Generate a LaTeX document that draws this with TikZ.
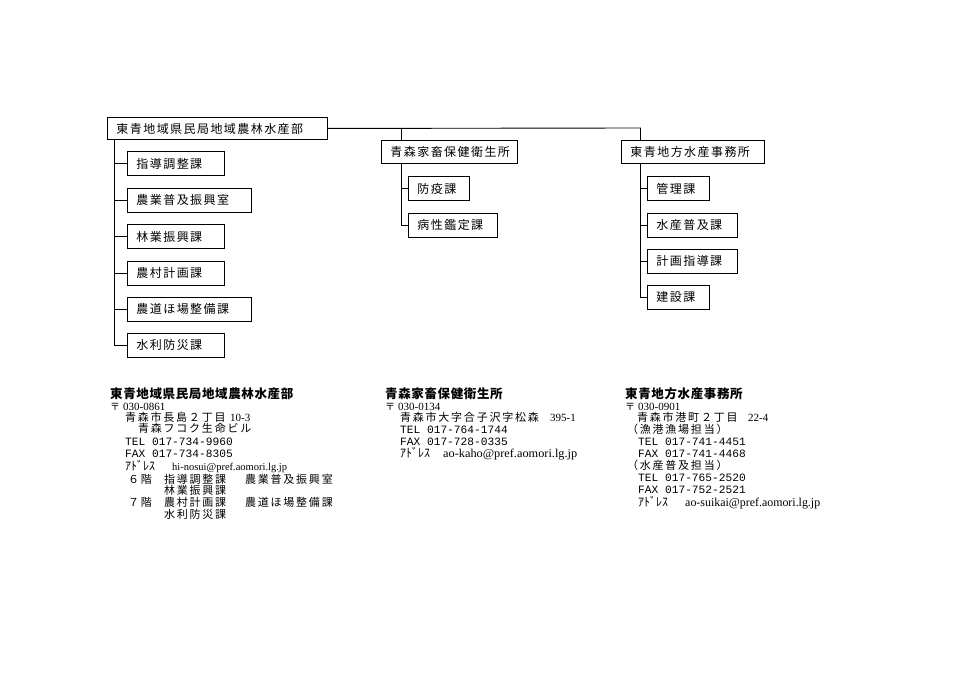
\documentclass[tikz,border=0pt]{standalone}
\usepackage{fontspec}
\usepackage{graphicx}
\setmainfont{Liberation Serif}
\newfontfamily\jp{Noto Sans CJK JP}
\newfontfamily\mono{Liberation Mono}
\newcommand\boxfont{\jp\fontsize{12}{14}\selectfont\addfontfeature{LetterSpace=12}}
\newcommand\hfont{\jp\bfseries\fontsize{12.5}{14}\selectfont\addfontfeature{LetterSpace=5}}
\newcommand\bfont{\jp\fontsize{11}{13}\selectfont\addfontfeature{LetterSpace=16}}
\newcommand\zfont{\jp\fontsize{10}{12}\selectfont}
\newcommand\kfont{\jp\fontsize{12}{13}\selectfont}
\newcommand\mfont{\mono\fontsize{11.2}{13}\selectfont}
\newcommand\sfont{\rmfamily\fontsize{11}{13}\selectfont}
\newcommand\efont{\rmfamily\fontsize{12}{13}\selectfont}
\newcommand\lfont{\rmfamily\fontsize{10.5}{13}\selectfont}
\newcommand\fitw[2]{\resizebox{#1}{\height}{#2}}
\tikzset{
  box/.style={draw, line width=0.9pt, anchor=north west, inner xsep=9pt, inner ysep=0pt, align=left, font=\boxfont},
  ln/.style={line width=0.9pt},
  t/.style={anchor=base west, inner sep=0pt}
}
\begin{document}
\begin{tikzpicture}[x=1pt,y=-1pt]
\useasboundingbox[fill=white] (0,0) rectangle (960,679);
% --- boxes
\node[box, text width=202pt, minimum height=22pt] (top) at (107,117) {東青地域県民局地域農林水産部};
\node[box, text width=79pt, minimum height=24pt] (b1) at (127,151.5) {指導調整課};
\node[box, text width=106pt, minimum height=24pt] (b2) at (127,187.5) {農業普及振興室};
\node[box, text width=79pt, minimum height=24pt] (b3) at (127,224) {林業振興課};
\node[box, text width=79pt, minimum height=24pt] (b4) at (127,260.5) {農村計画課};
\node[box, text width=106pt, minimum height=24pt] (b5) at (127,297) {農道ほ場整備課};
\node[box, text width=79pt, minimum height=24pt] (b6) at (127,333) {水利防災課};
\node[box, text width=118pt, minimum height=23.5pt] (h2) at (381,140) {青森家畜保健衛生所};
\node[box, text width=43pt, minimum height=24pt] (c1) at (408,176) {防疫課};
\node[box, text width=71pt, minimum height=24pt] (c2) at (408,212.5) {病性鑑定課};
\node[box, text width=125pt, minimum height=23.5pt] (h3) at (621,140) {東青地方水産事務所};
\node[box, text width=44pt, minimum height=24pt] (d1) at (647,176) {管理課};
\node[box, text width=72pt, minimum height=24pt] (d2) at (647,212.5) {水産普及課};
\node[box, text width=72pt, minimum height=24pt] (d3) at (647,248.5) {計画指導課};
\node[box, text width=44pt, minimum height=24pt] (d4) at (647,285) {建設課};
% --- connectors
\coordinate (j2) at (401,128);
\coordinate (j3) at (640.5,128);
\coordinate (tl) at (114,0);
\draw[ln] (top.east) -- (j3) -- (j3 |- h3.north);
\draw[ln] (j2) -- (j2 |- h2.north);
\draw[ln] (tl |- top.south) -- (tl |- b6.west) -- (b6.west);
\foreach \b in {b1,b2,b3,b4,b5} \draw[ln] (tl |- \b.west) -- (\b.west);
\draw[ln] (j2 |- h2.south) -- (j2 |- c2.west) -- (c2.west);
\draw[ln] (j2 |- c1.west) -- (c1.west);
\draw[ln] (j3 |- h3.south) -- (j3 |- d4.west) -- (d4.west);
\foreach \b in {d1,d2,d3} \draw[ln] (j3 |- \b.west) -- (\b.west);
% --- left address block
\node[t] (la0) at (110,398.5) {\hfont 東青地域県民局地域農林水産部};
\node[t] (la1) at (110,410) {\zfont 〒};
\node[t] (la1z) at (123,410) {\sfont 030-0861};
\node[t] (la2) at (125,421) {\bfont 青森市長島２丁目};
\node[t] (la2n) at (230,421) {\sfont 10-3};
\node[t] (la3) at (138,432) {\bfont 青森フコク生命ビル};
\node[t] (la4) at (125,445) {\mfont TEL 017-734-9960};
\node[t] (la5) at (125,457) {\mfont FAX 017-734-8305};
\node[t] (la6) at (125,470) {\kfont ｱﾄﾞﾚｽ};
\node[t] (la6m) at (172,470) {\lfont hi-nosui@pref.aomori.lg.jp};
\node[t] (la7) at (128,483) {\bfont ６階};
\node[t] (la7a) at (164,483) {\bfont 指導調整課};
\node[t] (la7b) at (245,483) {\bfont 農業普及振興室};
\node[t] (la8) at (164,494.5) {\bfont 林業振興課};
\node[t] (la9) at (128,506) {\bfont ７階};
\node[t] (la9a) at (164,506) {\bfont 農村計画課};
\node[t] (la9b) at (245,506) {\bfont 農道ほ場整備課};
\node[t] (la10) at (164,518) {\bfont 水利防災課};
% --- middle address block
\node[t] (ma0) at (385,398.5) {\hfont 青森家畜保健衛生所};
\node[t] (ma1) at (385,410) {\zfont 〒};
\node[t] (ma1z) at (398,410) {\sfont 030-0134};
\node[t] (ma2) at (400,421) {\bfont 青森市大字合子沢字松森};
\node[t] (ma2n) at (550,421) {\sfont 395-1};
\node[t] (ma3) at (400,433) {\mfont TEL 017-764-1744};
\node[t] (ma4) at (400,445) {\mfont FAX 017-728-0335};
\node[t] (ma5) at (400,457) {\kfont ｱﾄﾞﾚｽ};
\node[t] (ma5m) at (443,457) {\efont\fitw{134pt}{ao-kaho@pref.aomori.lg.jp}};
% --- right address block
\node[t] (ra0) at (625,398.5) {\hfont 東青地方水産事務所};
\node[t] (ra1) at (625,410) {\zfont 〒};
\node[t] (ra1z) at (638,410) {\sfont 030-0901};
\node[t] (ra2) at (637,421) {\bfont 青森市港町２丁目};
\node[t] (ra2n) at (748,421) {\sfont 22-4};
\node[t] (ra3) at (627,433) {\bfont （漁港漁場担当）};
\node[t] (ra4) at (638,445) {\mfont TEL 017-741-4451};
\node[t] (ra5) at (638,457) {\mfont FAX 017-741-4468};
\node[t] (ra6) at (627,469) {\bfont （水産普及担当）};
\node[t] (ra7) at (638,481) {\mfont TEL 017-765-2520};
\node[t] (ra8) at (638,493) {\mfont FAX 017-752-2521};
\node[t] (ra9) at (638,506) {\kfont ｱﾄﾞﾚｽ};
\node[t] (ra9m) at (685,506) {\efont\fitw{135pt}{ao-suikai@pref.aomori.lg.jp}};
\end{tikzpicture}
\end{document}
